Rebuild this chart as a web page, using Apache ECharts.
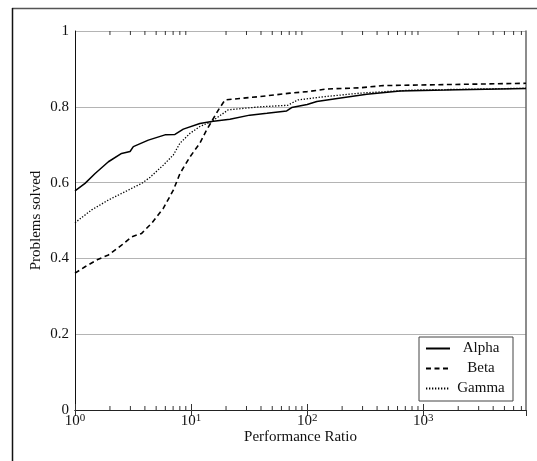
<!DOCTYPE html>
<html>
<head>
<meta charset="utf-8">
<script src="https://cdn.jsdelivr.net/npm/echarts@6/dist/echarts.min.js"></script>
<style>html,body{margin:0;padding:0;background:#fff;}#c{width:537px;height:461px;}</style>
</head>
<body>
<div id="c"></div>
<script>
// ---- data ----
const seriesNames = ['Alpha', 'Beta', 'Gamma'];
const xMin = 1;
const xMax = 7670;
const yTicks = [0, 0.2, 0.4, 0.6, 0.8, 1];
const minorTickValues = [2,3,4,5,6,7,8,9,20,30,40,50,60,70,80,90,200,300,400,500,600,700,800,900,2000,3000,4000,5000,6000,7000];

const alphaRatio  = [1, 1.22, 1.49, 1.94, 2.52, 2.98, 3.18, 4.28, 5.96, 7.26, 8.57, 11.9, 15.0, 21.6, 32, 45, 66.6, 73.5, 100, 121, 201, 326, 630, 1550, 7670];
const alphaSolved = [0.578, 0.598, 0.624, 0.655, 0.677, 0.682, 0.695, 0.712, 0.726, 0.727, 0.741, 0.756, 0.761, 0.767, 0.778, 0.783, 0.789, 0.798, 0.806, 0.814, 0.824, 0.833, 0.842, 0.844, 0.848];

const betaRatio  = [1, 1.22, 1.59, 1.94, 2.52, 3.08, 3.75, 4.58, 5.76, 7.03, 8.02, 9.79, 11.9, 13.6, 15.0, 17.2, 19.6, 26.2, 39.4, 71, 100, 147, 283, 452, 7670];
const betaSolved = [0.361, 0.378, 0.398, 0.409, 0.435, 0.457, 0.466, 0.493, 0.532, 0.580, 0.624, 0.668, 0.704, 0.739, 0.761, 0.792, 0.818, 0.822, 0.827, 0.836, 0.840, 0.847, 0.850, 0.856, 0.862];

const gammaRatio  = [1, 1.39, 1.94, 2.7, 3.75, 4.43, 5.76, 7.03, 8.02, 9.79, 11.9, 15.0, 20.9, 39.4, 68, 83, 143, 283, 783, 7670];
const gammaSolved = [0.494, 0.528, 0.554, 0.576, 0.598, 0.614, 0.646, 0.673, 0.704, 0.730, 0.748, 0.761, 0.792, 0.800, 0.804, 0.818, 0.827, 0.836, 0.844, 0.849];

// ---- chart ----
const FONT = 'Liberation Serif';
const pairs = (xs, ys) => xs.map((x, i) => [x, ys[i]]);

const chart = echarts.init(document.getElementById('c'), null, {renderer: 'canvas'});
chart.setOption({
  animation: false,
  backgroundColor: '#fff',
  textStyle: {fontFamily: FONT},
  grid: {left: 75, right: 11, top: 31, bottom: 51, containLabel: false},
  graphic: [
    {type: 'line', shape: {x1: 12, y1: 8.5, x2: 537, y2: 8.5}, style: {stroke: '#555', lineWidth: 1.5}, z: 100},
    {type: 'line', shape: {x1: 12.5, y1: 8, x2: 12.5, y2: 461}, style: {stroke: '#111', lineWidth: 1.5}, z: 100}
  ],
  legend: {
    data: seriesNames,
    orient: 'vertical',
    left: 419,
    top: 337,
    itemWidth: 24,
    itemHeight: 14,
    itemGap: 5,
    padding: [4, 6, 5, 6],
    borderColor: '#444',
    borderWidth: 1,
    backgroundColor: '#fff',
    itemStyle: {opacity: 0, borderWidth: 0},
    formatter: name => '{c|' + name + '}',
    textStyle: {
      fontFamily: FONT, fontSize: 15, color: '#111',
      rich: {c: {width: 52, align: 'center', fontFamily: FONT, fontSize: 15, lineHeight: 14, color: '#111'}}
    }
  },
  xAxis: [
    {
      type: 'log', logBase: 10, min: xMin, max: xMax, position: 'bottom',
      name: 'Performance Ratio', nameLocation: 'middle', nameGap: 20, nameMoveOverlap: false,
      nameTextStyle: {fontFamily: FONT, fontSize: 15, color: '#111'},
      axisLine: {show: true, lineStyle: {color: '#222', width: 1}},
      axisTick: {show: true, inside: true, length: 6, lineStyle: {color: '#333'}},
      splitLine: {show: false},
      axisLabel: {
        showMaxLabel: false, margin: 3,
        formatter: v => '{b|10}{s|' + Math.round(Math.log10(v)) + '}',
        rich: {
          b: {fontFamily: FONT, fontSize: 15, color: '#111'},
          s: {fontFamily: FONT, fontSize: 11, color: '#111', verticalAlign: 'top', padding: [0, 0, 6, 0]}
        }
      }
    },
    {
      type: 'log', logBase: 10, min: xMin, max: xMax, position: 'top',
      axisLine: {show: true, lineStyle: {color: '#222', width: 1}},
      axisTick: {show: true, inside: true, length: 6, lineStyle: {color: '#333'}},
      axisLabel: {show: false},
      splitLine: {show: false}
    }
  ],
  yAxis: [
    {
      type: 'value', min: yTicks[0], max: yTicks[yTicks.length - 1], interval: 0.2, position: 'left',
      name: 'Problems solved', nameLocation: 'middle', nameGap: 31, nameMoveOverlap: false,
      nameTextStyle: {fontFamily: FONT, fontSize: 15, color: '#111'},
      axisLine: {show: true, lineStyle: {color: '#111', width: 1}},
      axisTick: {show: false},
      axisLabel: {fontFamily: FONT, fontSize: 15, color: '#111', margin: 6},
      splitLine: {show: true, lineStyle: {color: '#b4b4b4', width: 1}}
    },
    {
      type: 'value', min: yTicks[0], max: yTicks[yTicks.length - 1], interval: 0.2, position: 'right',
      axisLine: {show: true, lineStyle: {color: '#666', width: 1.5}},
      axisTick: {show: false},
      axisLabel: {show: false},
      splitLine: {show: false}
    }
  ],
  series: [
    {
      name: 'Alpha', type: 'line', symbol: 'none', data: pairs(alphaRatio, alphaSolved),
      lineStyle: {color: '#000', width: 1.5, type: 'solid'}, itemStyle: {color: '#000'}, z: 5
    },
    {
      name: 'Beta', type: 'line', symbol: 'none', data: pairs(betaRatio, betaSolved),
      lineStyle: {color: '#000', width: 1.6, type: [5, 3.5]}, itemStyle: {color: '#000'}, z: 5
    },
    {
      name: 'Gamma', type: 'line', symbol: 'none', data: pairs(gammaRatio, gammaSolved),
      lineStyle: {color: '#000', width: 1.3, type: [1.3, 1.7]}, itemStyle: {color: '#000'}, z: 5
    },
    {
      name: 'minorTicks', type: 'custom', silent: true, clip: false, z: 4,
      data: minorTickValues.map(v => [v, 0]),
      encode: {x: 0, y: 1},
      renderItem: (params, api) => {
        const v = api.value(0);
        const pb = api.coord([v, 0]);
        const pt = api.coord([v, 1]);
        const st = {stroke: '#333', lineWidth: 1};
        return {type: 'group', children: [
          {type: 'line', shape: {x1: pb[0], y1: pb[1], x2: pb[0], y2: pb[1] - 4}, style: st},
          {type: 'line', shape: {x1: pt[0], y1: pt[1], x2: pt[0], y2: pt[1] + 4}, style: st}
        ]};
      }
    }
  ]
});
</script>
</body>
</html>
